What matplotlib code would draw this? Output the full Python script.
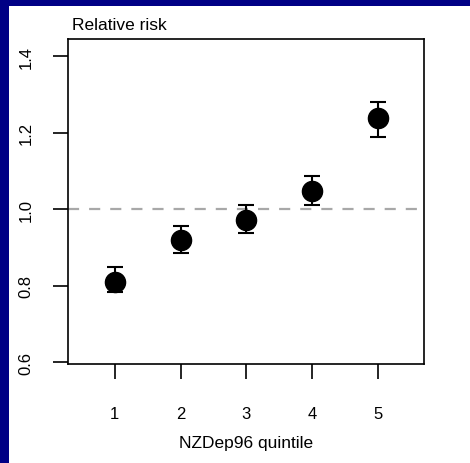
import matplotlib
matplotlib.use("Agg")
import matplotlib.pyplot as plt
from matplotlib.patches import Rectangle

# data
quintiles = [1, 2, 3, 4, 5]
rel_risk = [0.809, 0.919, 0.971, 1.047, 1.238]
ci_low = [0.783, 0.885, 0.937, 1.010, 1.190]
ci_high = [0.848, 0.955, 1.010, 1.086, 1.280]
y_ticks = [0.6, 0.8, 1.0, 1.2, 1.4]
y_tick_labels = ["0.6", "0.8", "1.0", "1.2", "1.4"]

plt.rcParams["font.family"] = ["Liberation Sans", "DejaVu Sans"]

fig = plt.figure(figsize=(4.7, 4.64), dpi=100)
fig.patch.set_facecolor("#000085")
# white slide panel, kept under the axes
fig.patches.append(Rectangle((9 / 470, 0), 1 - 9 / 470, 1 - 7 / 464,
                             transform=fig.transFigure, facecolor="white",
                             edgecolor="none", zorder=-5))

ax = fig.add_axes([68 / 470, 1 - 365 / 464, (424 - 68) / 470, (365 - 40) / 464])
ax.set_zorder(2)
ax.set_facecolor("white")

err_lo = [r - l for r, l in zip(rel_risk, ci_low)]
err_hi = [h - r for r, h in zip(rel_risk, ci_high)]
ax.axhline(1.0, color="#a8a8a8", lw=1.6, ls=(0, (5, 4.5)), zorder=1)
ax.errorbar(quintiles, rel_risk, yerr=[err_lo, err_hi], fmt="o", color="black",
            ms=14.5, elinewidth=1.5, capsize=5.5, capthick=1.5, zorder=3)

ax.set_xlim(0.29, 5.70)
ax.set_ylim(0.595, 1.445)
ax.set_xticks(quintiles)
ax.set_xticklabels([str(q) for q in quintiles])
ax.set_yticks(y_ticks)
ax.set_yticklabels(y_tick_labels, rotation=90, va="center")

for s in ax.spines.values():
    s.set_linewidth(1.2)
ax.tick_params(axis="both", direction="out", length=11, width=1.2, labelsize=12)
ax.tick_params(axis="x", pad=19)
ax.tick_params(axis="y", pad=14)

ax.set_xlabel("NZDep96 quintile", fontsize=12.5, labelpad=10)
ax.text(0.01, 1.02, "Relative risk", transform=ax.transAxes, fontsize=12.5,
        ha="left", va="bottom")

fig.savefig("out.png", dpi=100, facecolor=fig.get_facecolor())
